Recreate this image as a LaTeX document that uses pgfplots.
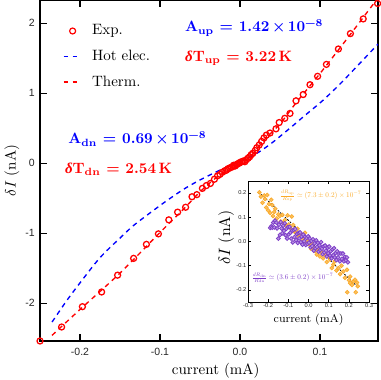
\documentclass[border=0pt]{standalone}
\usepackage{pgfplots}
\pgfplotsset{compat=1.18}
\usepackage{fontspec}
\usetikzlibrary{calc}
\newfontfamily\tickfont{Liberation Sans}
\newfontfamily\grk{Liberation Serif}
\definecolor{myorange}{RGB}{250,170,40}
\definecolor{mypurple}{RGB}{125,60,200}
\pgfplotsset{
  lineleg/.style={legend image code/.code={\draw[##1] (0pt,0pt) -- (10pt,0pt); \path[draw=none, fill=none] (0pt,0pt) -- (17pt,0pt);}},
  markleg/.style={legend image code/.code={\draw[##1] plot coordinates {(6pt,0pt)}; \path[draw=none, fill=none] (0pt,0pt) -- (17pt,0pt);}},
}
\begin{document}
\begin{tikzpicture}
\begin{axis}[
  name=main,
  scale only axis, width=225.3pt, height=227.3pt,
  xmin=-0.25, xmax=0.1725, ymin=-2.54, ymax=2.33,
  xtick={-0.2,-0.1,0,0.1}, xticklabels={-0.2,-0.1,0.0,0.1},
  ytick={-2,-1,0,1,2}, yticklabels={-2,-1,0,1,2},
  tick align=inside, xtick pos=both, ytick pos=both,
  xticklabel pos=lower, yticklabel pos=left,
  major tick length=4.4pt,
  axis line style={line width=0.7pt},
  major tick style={black, line width=0.7pt},
  tick label style={font=\tickfont\fontsize{7}{8}\selectfont, text=black!85},
  xticklabel style={yshift=-1.5pt},
  xlabel={current (mA)}, ylabel={$\delta I$ (nA)},
  xlabel style={at={(axis description cs:0.52,-0.088)}, anchor=center},
  ylabel style={at={(axis description cs:-0.083,0.5)}, anchor=center},
  legend style={at={(0.067,0.937)}, anchor=north west, draw=none, fill=none,
    inner sep=0pt, row sep=4.6pt, font=\fontsize{10}{12}\selectfont, cells={anchor=west}},
]
\addlegendimage{color=red, only marks, mark=o, mark size=2pt, mark options={draw=red, line width=0.8pt}, markleg}
\addlegendentry{Exp.}
\addlegendimage{color=blue, line width=0.9pt, dash pattern=on 3.2pt off 2.8pt, lineleg}
\addlegendentry{Hot elec.}
\addlegendimage{color=red, line width=0.9pt, dash pattern=on 3.2pt off 2.8pt, lineleg}
\addlegendentry{Therm.}
\addplot[blue, line width=0.9pt, dash pattern=on 3.2pt off 2.8pt, smooth, forget plot] coordinates {
(-0.235,-2.27) (-0.217,-1.97) (-0.200,-1.71) (-0.175,-1.35) (-0.150,-1.07)
(-0.133,-0.89) (-0.110,-0.69) (-0.092,-0.54) (-0.070,-0.37) (-0.050,-0.24)
(-0.025,-0.10) (0.000,0.02) (0.021,0.14) (0.040,0.29) (0.0625,0.50)
(0.080,0.67) (0.104,0.90) (0.125,1.13) (0.146,1.38) (0.1725,1.70)
};
\addplot[red, line width=0.9pt, dash pattern=on 3.2pt off 2.8pt, smooth, forget plot] coordinates {
(-0.235,-2.46) (-0.200,-2.09) (-0.150,-1.57) (-0.100,-0.99) (-0.070,-0.65)
(-0.050,-0.41) (-0.030,-0.21) (-0.010,-0.06) (0.000,0.00) (0.010,0.07)
(0.020,0.18) (0.030,0.33) (0.050,0.56) (0.070,0.86) (0.100,1.28)
(0.130,1.72) (0.150,2.02) (0.1725,2.36)
};
\addplot[red, only marks, mark=o, mark size=2pt, mark options={line width=0.85pt}, forget plot] coordinates {
(-0.250,-2.54) (-0.223,-2.34)
(-0.197,-2.05) (-0.173,-1.84) (-0.153,-1.60) (-0.133,-1.36) (-0.117,-1.16)
(-0.102,-1.01) (-0.089,-0.81) (-0.078,-0.70) (-0.068,-0.63) (-0.060,-0.48)
(-0.054,-0.45) (-0.047,-0.36) (-0.042,-0.32) (-0.037,-0.29) (-0.032,-0.23)
(-0.028,-0.18) (-0.025,-0.16) (-0.022,-0.13) (-0.019,-0.11) (-0.017,-0.10)
(-0.015,-0.08) (-0.013,-0.07) (-0.011,-0.06) (-0.009,-0.05) (-0.008,-0.03)
(-0.006,-0.04) (-0.004,-0.02) (-0.003,-0.01) (-0.001,0.00) (0.000,0.01)
(0.002,0.02) (0.004,0.03) (0.006,0.02) (0.008,0.05) (0.010,0.07)
(0.012,0.09) (0.014,0.12) (0.016,0.14) (0.019,0.18) (0.021,0.22)
(0.024,0.26) (0.027,0.31) (0.030,0.36) (0.033,0.40) (0.0375,0.43)
(0.045,0.49) (0.049,0.58) (0.056,0.64) (0.0625,0.71) (0.070,0.89)
(0.079,0.98) (0.0875,1.12) (0.097,1.24) (0.108,1.41) (0.123,1.63)
(0.138,1.85) (0.154,2.06) (0.172,2.28)
};
\end{axis}

\begin{axis}[
  name=inset,
  at={(main.south west)}, anchor=south west, xshift=138.67pt, yshift=26pt,
  scale only axis, width=80.7pt, height=80.7pt,
  xmin=-0.3, xmax=0.3, ymin=-0.25, ymax=0.25,
  axis background/.style={fill=white},
  xtick={-0.3,-0.2,-0.1,0,0.1,0.2,0.3}, xticklabels={-0.3,-0.2,-0.1,0.0,0.1,0.2,0.3},
  ytick={-0.2,-0.1,0,0.1,0.2}, yticklabels={-0.2,-0.1,0.0,0.1,0.2},
  tick align=inside, xtick pos=both, ytick pos=both,
  xticklabel pos=lower, yticklabel pos=left,
  major tick length=1.8pt,
  axis line style={line width=0.5pt},
  major tick style={black, line width=0.5pt},
  tick label style={font=\tickfont\fontsize{3.8}{4.5}\selectfont, text=black!85, inner sep=1pt},
  xlabel={current (mA)}, ylabel={$\delta I$ (nA)},
  xlabel style={at={(axis description cs:0.5,-0.149)}, anchor=center, font=\fontsize{7.5}{9}\selectfont},
  ylabel style={at={(axis description cs:-0.18,0.533)}, anchor=center, font=\fontsize{10.5}{12}\selectfont},
]
\addplot[only marks, mark=*, mark size=1.3pt, mark options={draw=myorange, fill=myorange!75, line width=0.4pt}] coordinates {
(-0.244,0.203) (-0.236,0.185) (-0.228,0.160) (-0.220,0.190) (-0.216,0.175)
(-0.210,0.140) (-0.205,0.192) (-0.200,0.128) (-0.196,0.155) (-0.190,0.118)
(-0.185,0.172) (-0.180,0.150) (-0.176,0.105) (-0.170,0.122) (-0.165,0.135)
(-0.158,0.095) (-0.150,0.112) (-0.143,0.105) (-0.138,0.082) (-0.130,0.110)
(-0.124,0.076) (-0.118,0.088) (-0.110,0.062) (-0.104,0.108) (-0.098,0.070)
(-0.090,0.055) (-0.083,0.103) (-0.076,0.068) (-0.070,0.040) (-0.062,0.036)
(-0.055,0.052) (-0.048,0.020) (-0.040,0.028) (-0.033,0.000) (-0.026,0.015)
(-0.018,0.036) (-0.010,-0.005) (-0.004,0.010) (0.004,-0.012) (0.012,-0.030)
(0.018,-0.008) (0.024,-0.026) (0.032,-0.040) (0.041,-0.054) (0.049,-0.033)
(0.056,-0.062) (0.064,-0.045) (0.072,-0.070) (0.082,-0.054) (0.090,-0.085)
(0.098,-0.062) (0.107,-0.075) (0.115,-0.110) (0.123,-0.096) (0.130,-0.082)
(0.138,-0.120) (0.148,-0.110) (0.156,-0.135) (0.163,-0.100) (0.172,-0.124)
(0.180,-0.150) (0.190,-0.117) (0.192,-0.210) (0.200,-0.160) (0.206,-0.145)
(0.206,-0.172) (0.215,-0.180) (0.222,-0.165) (0.230,-0.158) (0.234,-0.210)
(0.240,-0.170) (0.244,-0.185)
};
\addplot[only marks, mark=*, mark size=1.3pt, mark options={draw=mypurple, fill=mypurple!55, line width=0.5pt}] coordinates {
(-0.190,0.056) (-0.185,0.062) (-0.180,0.057) (-0.175,0.078) (-0.170,0.058)
(-0.166,0.086) (-0.160,0.078) (-0.156,0.054) (-0.150,0.012) (-0.147,0.069)
(-0.142,0.027) (-0.138,0.080) (-0.134,0.054) (-0.130,0.034) (-0.126,0.065)
(-0.122,0.044) (-0.118,0.075) (-0.114,0.026) (-0.110,0.052) (-0.106,0.012)
(-0.102,0.059) (-0.098,0.029) (-0.094,0.060) (-0.090,0.036) (-0.086,0.012)
(-0.082,0.045) (-0.078,-0.004) (-0.074,0.048) (-0.070,0.018) (-0.066,0.051)
(-0.062,0.005) (-0.058,0.031) (-0.054,-0.006) (-0.050,0.035) (-0.046,0.013)
(-0.042,0.037) (-0.038,-0.003) (-0.034,0.020) (-0.030,-0.013) (-0.026,0.028)
(-0.022,0.001) (-0.018,0.019) (-0.014,-0.014) (-0.010,0.014) (-0.006,-0.010)
(-0.002,0.021) (0.002,-0.005) (0.006,0.012) (0.010,-0.024) (0.014,0.002)
(0.018,-0.019) (0.022,0.009) (0.026,-0.038) (0.030,-0.008) (0.034,-0.028)
(0.038,0.005) (0.042,-0.023) (0.046,-0.006) (0.050,-0.042) (0.054,-0.016)
(0.058,-0.035) (0.062,-0.003) (0.066,-0.030) (0.070,-0.052) (0.074,-0.020)
(0.078,-0.045) (0.082,-0.017) (0.086,-0.038) (0.090,-0.062) (0.094,-0.026)
(0.098,-0.049) (0.102,-0.021) (0.106,-0.058) (0.110,-0.040) (0.114,-0.070)
(0.118,-0.033) (0.122,-0.057) (0.126,-0.028) (0.130,-0.066) (0.134,-0.048)
(0.138,-0.077) (0.142,-0.041) (0.146,-0.066) (0.150,-0.050) (0.155,-0.082)
(0.160,-0.050) (0.165,-0.072) (0.170,-0.050) (0.175,-0.082) (0.180,-0.064)
(0.185,-0.078) (0.190,-0.066) (0.195,-0.086)
};
\addplot[black, line width=0.5pt, dash pattern=on 1.2pt off 1pt] coordinates {(-0.235,0.195) (0.24,-0.185)};
\end{axis}
\node[anchor=base west, text=blue, inner sep=0pt, font=\bfseries] at ($(main.south west)+(96.5pt,206.1pt)$) {A\textsubscript{up} = 1.42\,×\,10\textsuperscript{−8}};
\node[anchor=base west, text=red, inner sep=0pt, font=\bfseries] at ($(main.south west)+(96.5pt,186.2pt)$) {{\grk\itshape δ}T\textsubscript{up} = 3.22\,K};
\node[anchor=base west, text=blue, inner sep=0pt, font=\bfseries] at ($(main.south west)+(18.7pt,131.4pt)$) {A\textsubscript{dn} = 0.69\,×\,10\textsuperscript{−8}};
\node[anchor=base west, text=red, inner sep=0pt, font=\bfseries] at ($(main.south west)+(16.5pt,111.9pt)$) {{\grk\itshape δ}T\textsubscript{dn} = 2.54\,K};
\node[anchor=west, text=myorange, inner sep=0pt, scale=0.48] at ($(main.south west)+(160pt,96.7pt)$) {$\frac{dR_{\mathrm{up}}}{R_{\mathrm{up}}}\simeq(7.3\pm0.2)\times10^{-7}$};
\node[anchor=west, text=mypurple, inner sep=0pt, scale=0.48] at ($(main.south west)+(141.3pt,42pt)$) {$\frac{dR_{\mathrm{dn}}}{R_{\mathrm{dn}}}\simeq(3.6\pm0.2)\times10^{-7}$};
\pgfresetboundingbox
\useasboundingbox ($(main.south west)+(-26.67pt,-26pt)$) rectangle ($(main.north east)+(2pt,0pt)$);
\end{tikzpicture}
\end{document}
